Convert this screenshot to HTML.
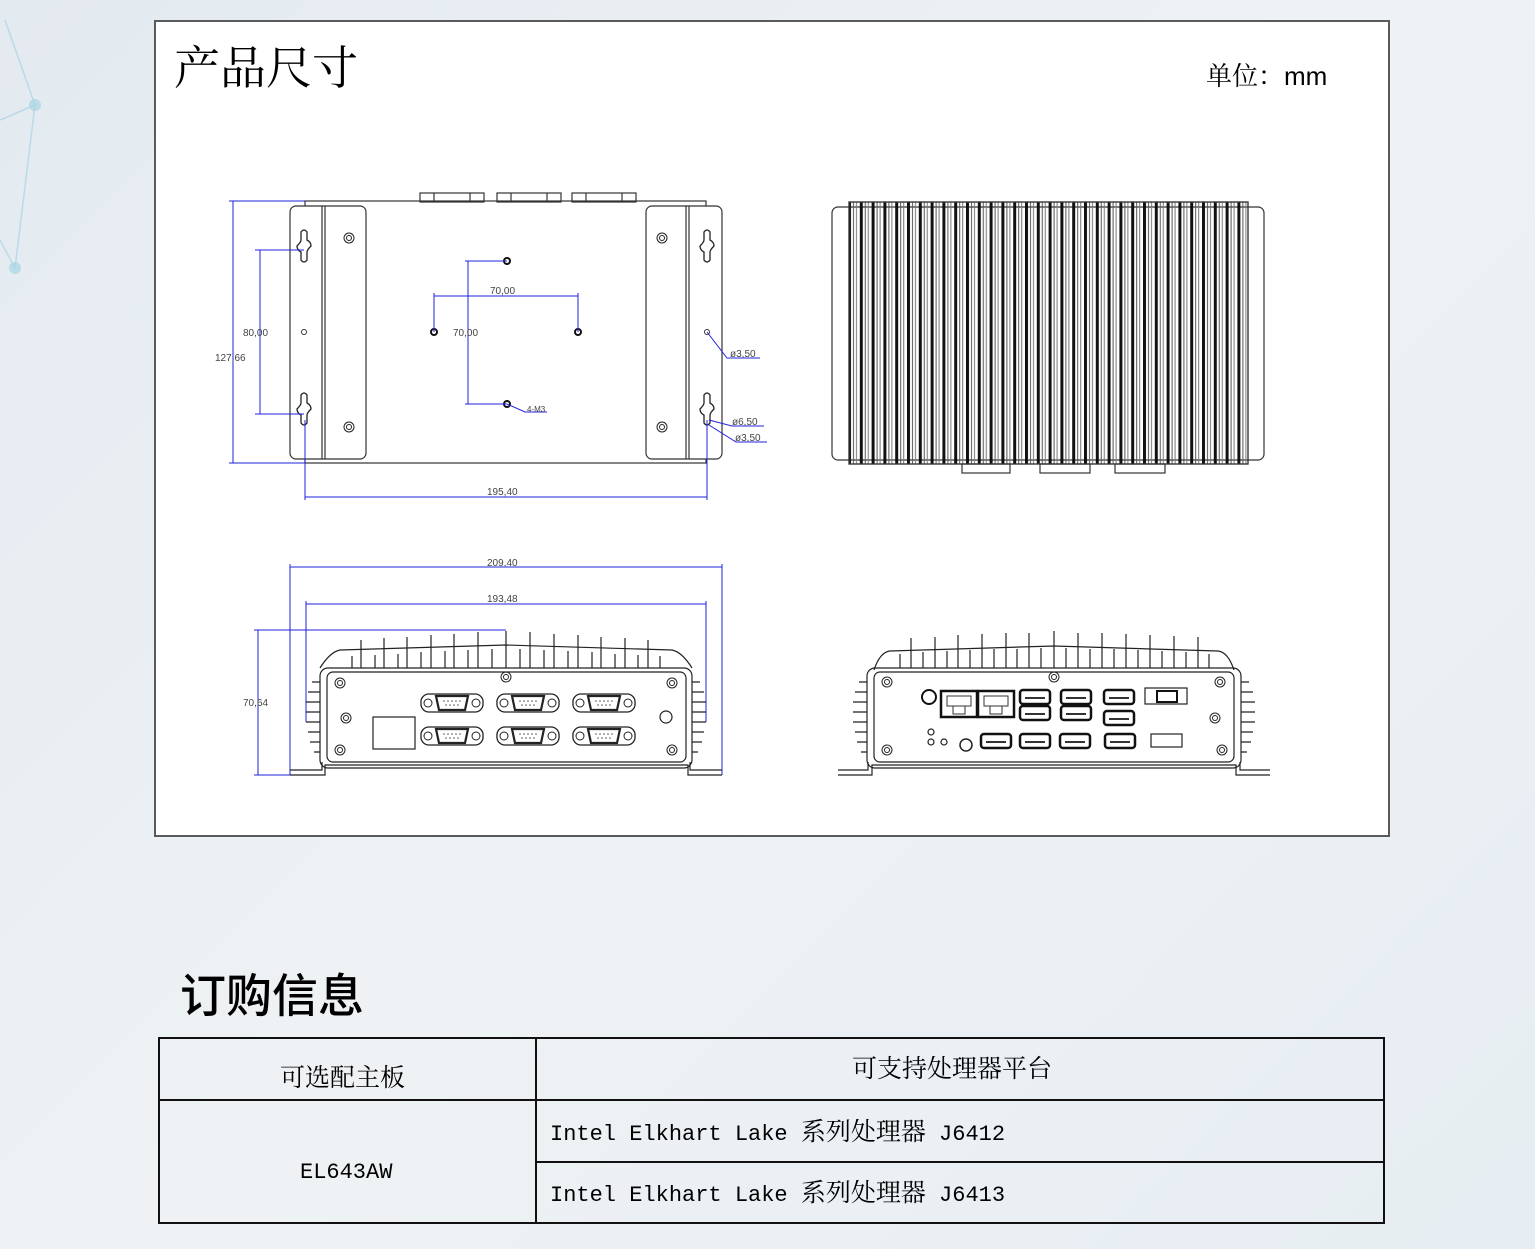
<!DOCTYPE html>
<html><head><meta charset="utf-8">
<style>
html,body{margin:0;padding:0}
body{width:1535px;height:1249px;overflow:hidden;position:relative;
background:linear-gradient(135deg,#e3eaf0 0%,#eef2f5 50%,#e6edf2 100%);
font-family:"Liberation Serif","Noto Serif CJK SC",serif;}
.box{position:absolute;left:154px;top:20px;width:1232px;height:813px;border:2px solid #5a5a5a;background:#fff;}
.t1{position:absolute;left:174px;top:46px;font-size:46px;color:#000;font-family:"Liberation Serif","Noto Serif CJK SC",serif;line-height:1}
.unit{position:absolute;left:1206px;top:63px;font-size:26px;font-family:"Liberation Sans","Noto Serif CJK SC",sans-serif;line-height:1}
.t2{position:absolute;left:180px;top:970px;font-size:46px;font-family:"Noto Sans CJK SC",sans-serif;font-weight:500;line-height:1}
.l{position:absolute;background:#111}
.tx{position:absolute;line-height:1;white-space:nowrap}
.m{font-family:"Liberation Mono",monospace;font-size:22px;}
.cj{font-family:"Noto Serif CJK SC",serif;font-size:25px}
</style></head><body>
<svg width="1535" height="1249" style="position:absolute;left:0;top:0">
<g stroke="#a8d4e4" stroke-width="1.5" fill="none" opacity=".7">
<line x1="5" y1="20" x2="35" y2="105"/><line x1="35" y1="105" x2="15" y2="268"/><line x1="0" y1="120" x2="35" y2="105"/><line x1="0" y1="240" x2="15" y2="268"/>
</g>
<circle cx="35" cy="105" r="6" fill="#a8d4e4" opacity=".7"/><circle cx="15" cy="268" r="6" fill="#a8d4e4" opacity=".7"/>
</svg>
<div class="box"></div>
<div class="t1">产品尺寸</div>
<div class="unit">单位：mm</div>

<svg width="1535" height="1249" style="position:absolute;left:0;top:0" font-family="Liberation Sans,sans-serif">
<defs>
<pattern id="fins" x="848" y="0" width="11.8" height="10" patternUnits="userSpaceOnUse">
<rect x="0" y="0" width="3" height="10" fill="#111"/><rect x="5" y="0" width="1" height="10" fill="#555"/><rect x="8" y="0" width="1" height="10" fill="#777"/>
</pattern>
<g id="db9"><path d="M-31,0 a8,8 0 0 1 8,-9 h46 a8,8 0 0 1 8,9 a8,8 0 0 1 -8,9 h-46 a8,8 0 0 1 -8,-9z" fill="#fff" stroke="#222" stroke-width="1.3"/>
<circle cx="-24" cy="0" r="4" fill="none" stroke="#222"/><circle cx="24" cy="0" r="4" fill="none" stroke="#222"/>
<path d="M-16,-7 h32 l-3,14 h-26z" fill="none" stroke="#222" stroke-width="2.2"/>
<g fill="#555"><circle cx="-8" cy="-2" r=".8"/><circle cx="-4" cy="-2" r=".8"/><circle cx="0" cy="-2" r=".8"/><circle cx="4" cy="-2" r=".8"/><circle cx="8" cy="-2" r=".8"/><circle cx="-6" cy="2" r=".8"/><circle cx="-2" cy="2" r=".8"/><circle cx="2" cy="2" r=".8"/><circle cx="6" cy="2" r=".8"/></g></g>
<g id="scr"><circle r="5" fill="none" stroke="#222"/><circle r="2.5" fill="none" stroke="#222"/></g>
<g id="usb"><rect x="-15" y="-7" width="30" height="14" rx="3" fill="#fff" stroke="#111" stroke-width="2.5"/><line x1="-10" y1="1" x2="10" y2="1" stroke="#333" stroke-width="2"/></g>
<g id="rj"><rect x="-18" y="-13" width="36" height="26" fill="#fff" stroke="#111" stroke-width="2.5"/><rect x="-12" y="-8" width="24" height="10" fill="none" stroke="#333"/><rect x="-6" y="2" width="12" height="8" fill="none" stroke="#333"/></g>
<g id="keyhole"><path d="M-3,-18 q3,-4 6,0 v8 q4,2 4,6 q-4,4 -4,6 v8 q-3,4 -6,0 v-8 q-4,-2 -4,-6 q4,-4 4,-6z" fill="#fff" stroke="#222" stroke-width="1.3"/></g>
</defs>

<g stroke="#333" fill="none" stroke-width="1.2">
<rect x="420" y="193" width="64" height="9"/><rect x="497" y="193" width="64" height="9"/><rect x="572" y="193" width="64" height="9"/>
<line x1="434" y1="193" x2="434" y2="202"/><line x1="470" y1="193" x2="470" y2="202"/><line x1="511" y1="193" x2="511" y2="202"/><line x1="547" y1="193" x2="547" y2="202"/><line x1="586" y1="193" x2="586" y2="202"/><line x1="622" y1="193" x2="622" y2="202"/>
<rect x="305" y="201" width="401" height="262"/>
<rect x="290" y="206" width="76" height="253" rx="6" fill="#fff"/>
<line x1="322" y1="206" x2="322" y2="459"/><line x1="325" y1="206" x2="325" y2="459"/>
<rect x="646" y="206" width="76" height="253" rx="6" fill="#fff"/>
<line x1="686" y1="206" x2="686" y2="459"/><line x1="689" y1="206" x2="689" y2="459"/>
</g>
<use href="#scr" x="349" y="238"/><use href="#scr" x="349" y="427"/><use href="#scr" x="662" y="238"/><use href="#scr" x="662" y="427"/>
<use href="#keyhole" x="304" y="250"/><use href="#keyhole" x="304" y="413"/><use href="#keyhole" x="707" y="250"/><use href="#keyhole" x="707" y="413"/>
<circle cx="304" cy="332" r="2.5" fill="none" stroke="#333"/><circle cx="707" cy="332" r="2.5" fill="none" stroke="#333"/>
<g fill="#fff" stroke="#111" stroke-width="2"><circle cx="507" cy="261" r="3"/><circle cx="434" cy="332" r="3"/><circle cx="578" cy="332" r="3"/><circle cx="507" cy="404" r="3"/></g>
<g stroke="#2222dd" stroke-width="1" fill="none">
<line x1="233" y1="201" x2="233" y2="463"/><line x1="229" y1="201" x2="305" y2="201"/><line x1="229" y1="463" x2="305" y2="463"/>
<line x1="260" y1="250" x2="260" y2="414"/><line x1="255" y1="250" x2="304" y2="250"/><line x1="255" y1="414" x2="304" y2="414"/>
<line x1="468" y1="261" x2="468" y2="404"/><line x1="465" y1="261" x2="507" y2="261"/><line x1="465" y1="404" x2="507" y2="404"/>
<line x1="434" y1="296" x2="578" y2="296"/><line x1="434" y1="293" x2="434" y2="332"/><line x1="578" y1="293" x2="578" y2="332"/>
<line x1="305" y1="497" x2="707" y2="497"/><line x1="305" y1="420" x2="305" y2="500"/><line x1="707" y1="420" x2="707" y2="500"/>
<polyline points="707,332 727,358 760,358"/><polyline points="709,420 732,426 764,426"/><polyline points="709,425 736,442 767,442"/>
<polyline points="507,404 525,412 547,412"/>
</g>
<g font-size="10" fill="#444">
<text x="215" y="361">127,66</text><text x="243" y="336">80,00</text><text x="453" y="336">70,00</text><text x="490" y="294">70,00</text>
<text x="487" y="495">195,40</text><text x="730" y="357">ø3,50</text><text x="732" y="425">ø6,50</text><text x="735" y="441">ø3,50</text>
<text x="527" y="412" font-size="8">4-M3</text>
</g>

<g stroke="#333" fill="none" stroke-width="1.2">
<rect x="832" y="207" width="432" height="253" rx="6" fill="#fff"/>
<rect x="849" y="202" width="399" height="262" fill="url(#fins)"/>
<rect x="849" y="202" width="399" height="262"/>
<rect x="962" y="464" width="48" height="9"/><rect x="1040" y="464" width="50" height="9"/><rect x="1115" y="464" width="50" height="9"/>
</g>

<g stroke="#2222dd" stroke-width="1" fill="none">
<line x1="290" y1="567" x2="722" y2="567"/><line x1="290" y1="564" x2="290" y2="775"/><line x1="722" y1="564" x2="722" y2="775"/>
<line x1="306" y1="604" x2="706" y2="604"/><line x1="306" y1="601" x2="306" y2="722"/><line x1="706" y1="601" x2="706" y2="722"/>
<line x1="258" y1="630" x2="258" y2="775"/><line x1="254" y1="630" x2="506" y2="630"/><line x1="254" y1="775" x2="290" y2="775"/>
</g>
<g font-size="10" fill="#444"><text x="487" y="566">209,40</text><text x="487" y="602">193,48</text><text x="243" y="706">70,64</text></g>
<g stroke="#222" fill="none" stroke-width="1.2">
<path d="M320,668 Q330,652 340,650 L506,645 L672,650 Q682,652 692,668"/>
<path d="M290,775 H325 V765 H688 V775 H722 M290,770 H322 V762 M722,770 H690 V762"/>
<rect x="320" y="668" width="372" height="100" rx="8"/>
<rect x="327" y="672" width="359" height="90" rx="6"/>
<path d="M352,668 V656 M361,668 V640 M375,668 V655 M384,668 V638 M398,668 V654 M407,668 V637 M421,668 V652 M431,668 V635 M445,668 V651 M454,668 V634 M468,668 V650 M478,668 V632 M492,668 V649 M506,668 V631 M520,668 V649 M530,668 V632 M544,668 V650 M554,668 V634 M568,668 V651 M578,668 V635 M592,668 V652 M601,668 V637 M615,668 V654 M625,668 V638 M638,668 V655 M648,668 V640 M660,668 V656"/>
<path d="M320,682 h-8 M320,692 h-12 M320,702 h-14 M320,712 h-14 M320,722 h-14 M320,732 h-12 M320,742 h-10 M320,752 h-6 M692,682 h8 M692,692 h12 M692,702 h14 M692,712 h14 M692,722 h14 M692,732 h12 M692,742 h10 M692,752 h6"/>
<rect x="373" y="717" width="42" height="32"/>
<circle cx="666" cy="717" r="6"/>
</g>
<use href="#scr" x="340" y="683"/><use href="#scr" x="340" y="750"/><use href="#scr" x="672" y="683"/><use href="#scr" x="672" y="750"/><use href="#scr" x="506" y="677"/><use href="#scr" x="346" y="718"/>
<use href="#db9" x="452" y="703"/><use href="#db9" x="528" y="703"/><use href="#db9" x="604" y="703"/>
<use href="#db9" x="452" y="736"/><use href="#db9" x="528" y="736"/><use href="#db9" x="604" y="736"/>

<g stroke="#222" fill="none" stroke-width="1.2">
<path d="M874,670 Q880,652 890,651 L1054,646 L1218,651 Q1228,652 1234,670"/>
<path d="M838,775 H872 V765 H1236 V775 H1270 M838,770 H868 V762 M1270,770 H1240 V762"/>
<rect x="867" y="668" width="374" height="100" rx="8"/>
<rect x="874" y="672" width="360" height="90" rx="6"/>
<path d="M900,668 V654 M911,668 V638 M923,668 V652 M935,668 V637 M947,668 V651 M958,668 V635 M970,668 V650 M982,668 V634 M994,668 V649 M1006,668 V633 M1017,668 V649 M1029,668 V633 M1041,668 V648 M1054,668 V631 M1066,668 V648 M1078,668 V633 M1090,668 V649 M1102,668 V633 M1114,668 V649 M1126,668 V634 M1138,668 V650 M1150,668 V635 M1162,668 V651 M1174,668 V636 M1186,668 V652 M1198,668 V637 M1209,668 V654"/>
<path d="M867,682 h-8 M867,692 h-12 M867,702 h-14 M867,712 h-14 M867,722 h-14 M867,732 h-12 M867,742 h-10 M867,752 h-6 M1241,682 h8 M1241,692 h12 M1241,702 h14 M1241,712 h14 M1241,722 h14 M1241,732 h12 M1241,742 h10 M1241,752 h6"/>
<rect x="1145" y="688" width="42" height="16"/><rect x="1151" y="734" width="31" height="13"/>
<circle cx="931" cy="732" r="3"/><circle cx="931" cy="742" r="3"/><circle cx="944" cy="742" r="3"/>
</g>
<circle cx="929" cy="697" r="7" fill="#fff" stroke="#111" stroke-width="2"/><circle cx="966" cy="745" r="6" fill="#fff" stroke="#222" stroke-width="1.5"/>
<use href="#scr" x="887" y="682"/><use href="#scr" x="887" y="750"/><use href="#scr" x="1220" y="682"/><use href="#scr" x="1222" y="750"/><use href="#scr" x="1054" y="677"/><use href="#scr" x="1215" y="718"/>
<use href="#rj" x="959" y="704"/><use href="#rj" x="996" y="704"/>
<use href="#usb" x="1035" y="697"/><use href="#usb" x="1035" y="713"/><use href="#usb" x="1076" y="697"/><use href="#usb" x="1076" y="713"/>
<use href="#usb" x="1119" y="697"/><use href="#usb" x="1119" y="718"/>
<use href="#usb" x="996" y="741"/><use href="#usb" x="1035" y="741"/><use href="#usb" x="1075" y="741"/><use href="#usb" x="1120" y="741"/>
<rect x="1157" y="691" width="20" height="11" fill="#fff" stroke="#111" stroke-width="2"/>
</svg>

<div class="t2">订购信息</div>
<div class="l" style="left:158px;top:1037px;width:1227px;height:1.5px"></div>
<div class="l" style="left:158px;top:1099px;width:1227px;height:1.5px"></div>
<div class="l" style="left:536px;top:1161px;width:849px;height:1.5px"></div>
<div class="l" style="left:158px;top:1222px;width:1227px;height:1.5px"></div>
<div class="l" style="left:158px;top:1037px;width:1.5px;height:187px"></div>
<div class="l" style="left:535px;top:1037px;width:1.5px;height:187px"></div>
<div class="l" style="left:1383px;top:1037px;width:1.5px;height:187px"></div>
<div class="tx cj" style="left:280px;top:1064px">可选配主板</div>
<div class="tx cj" style="left:852px;top:1055px">可支持处理器平台</div>
<div class="tx m" style="left:300px;top:1162px">EL643AW</div>
<div class="tx" style="left:550px;top:1118px"><span class="m">Intel Elkhart Lake </span><span class="cj">系列处理器</span><span class="m"> J6412</span></div>
<div class="tx" style="left:550px;top:1179px"><span class="m">Intel Elkhart Lake </span><span class="cj">系列处理器</span><span class="m"> J6413</span></div>
</body></html>
